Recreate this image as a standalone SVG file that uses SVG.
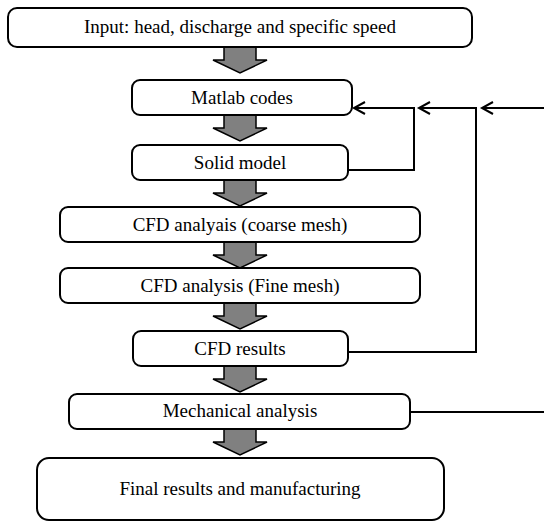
<svg xmlns="http://www.w3.org/2000/svg" width="544" height="522" viewBox="0 0 544 522">
<defs>
<style>
.box{fill:#fff;stroke:#000;stroke-width:2}
text{font-family:'Liberation Serif','Times New Roman',Times,serif;font-size:19px;fill:#000;text-anchor:middle}
.blk{fill:#808080;stroke:#000;stroke-width:1.5;stroke-linejoin:miter}
.con{fill:none;stroke:#000;stroke-width:2}
</style>
<marker id="open" markerWidth="16" markerHeight="16" refX="12" refY="8" orient="auto" markerUnits="userSpaceOnUse">
<path d="M1,2 L12,8 L1,14" fill="none" stroke="#000" stroke-width="2"/>
</marker>
<path id="barrow" d="M-16,0 H16 V13 H27 L0,26 L-27,13 H-16 Z"/>
</defs>
<rect width="544" height="522" fill="#fff"/>
<g id="connectors">
<use href="#barrow" class="blk" x="240" y="47"/>
<use href="#barrow" class="blk" x="240" y="115"/>
<use href="#barrow" class="blk" x="240" y="180"/>
<use href="#barrow" class="blk" x="240" y="242"/>
<use href="#barrow" class="blk" x="240" y="303"/>
<use href="#barrow" class="blk" x="240" y="366"/>
<use href="#barrow" class="blk" x="240" y="429"/>
<path class="con" d="M348,170 H414 V108 H354" marker-end="url(#open)"/>
<path class="con" d="M348,352 H476 V108 H419" marker-end="url(#open)"/>
<path class="con" d="M410,412 H550 V108 H482" marker-end="url(#open)"/>
</g>
<g id="input"><rect class="box" x="8" y="8" width="464" height="39" rx="9"/><text font-family="Liberation Serif, serif" x="240" y="33">Input: head, discharge and specific speed</text></g>
<g id="matlab"><rect class="box" x="132" y="80" width="220" height="35" rx="8"/><text font-family="Liberation Serif, serif" x="242" y="104">Matlab codes</text></g>
<g id="solid"><rect class="box" x="132" y="145" width="216" height="35" rx="8"/><text font-family="Liberation Serif, serif" x="240" y="169">Solid model</text></g>
<g id="coarse"><rect class="box" x="60" y="207" width="360" height="35" rx="8"/><text font-family="Liberation Serif, serif" x="240" y="231">CFD analyais (coarse mesh)</text></g>
<g id="fine"><rect class="box" x="60" y="268" width="360" height="35" rx="8"/><text font-family="Liberation Serif, serif" x="240" y="292">CFD analysis (Fine mesh)</text></g>
<g id="results"><rect class="box" x="133" y="331" width="215" height="35" rx="8"/><text font-family="Liberation Serif, serif" x="240" y="355">CFD results</text></g>
<g id="mechanical"><rect class="box" x="69" y="394" width="341" height="35" rx="8"/><text font-family="Liberation Serif, serif" x="240" y="417">Mechanical analysis</text></g>
<g id="final"><rect class="box" x="37" y="458" width="407" height="62" rx="12"/><text font-family="Liberation Serif, serif" x="240" y="495">Final results and manufacturing</text></g>
</svg>
